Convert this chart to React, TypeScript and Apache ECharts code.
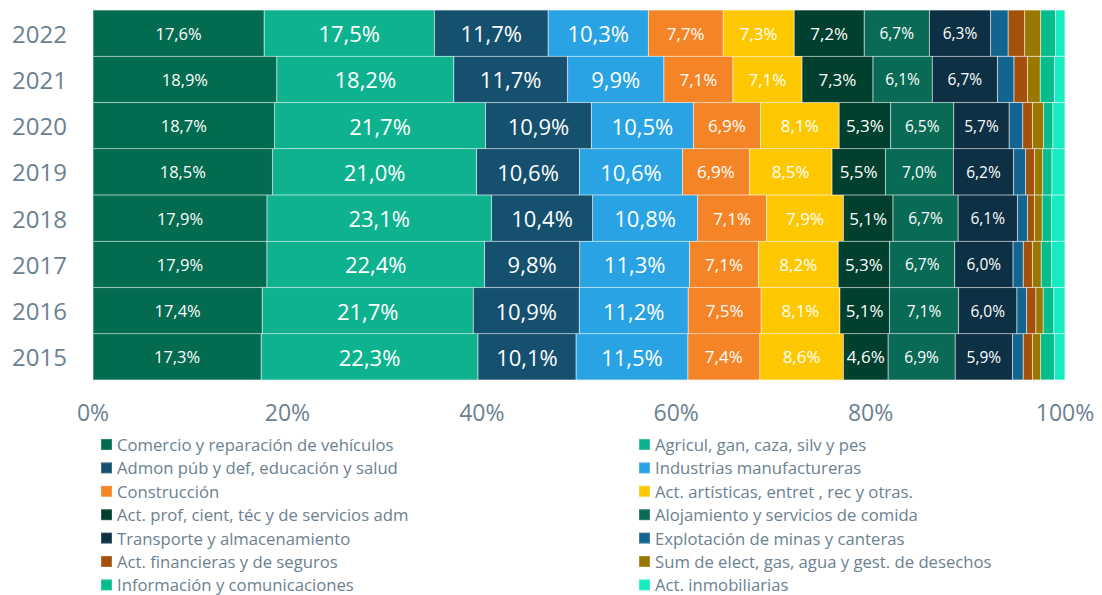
import React, { useEffect, useRef } from "react";
import * as echarts from "echarts";

const years = ["2015", "2016", "2017", "2018", "2019", "2020", "2021", "2022"];
const xTicks = ["0%", "20%", "40%", "60%", "80%", "100%"];

const seriesNames = [
  "Comercio y reparación de vehículos",
  "Agricul, gan, caza, silv y pes",
  "Admon púb y def, educación y salud",
  "Industrias manufactureras",
  "Construcción",
  "Act. artísticas, entret , rec y otras.",
  "Act. prof, cient, téc y de servicios adm",
  "Alojamiento y servicios de comida",
  "Transporte y almacenamiento",
  "Explotación de minas y canteras",
  "Act. financieras y de seguros",
  "Sum de elect, gas, agua y gest. de desechos",
  "Información y comunicaciones",
  "Act. inmobiliarias",
];

// values per year 2015..2022
const comercio = [17.3, 17.4, 17.9, 17.9, 18.5, 18.7, 18.9, 17.6];
const agricul = [22.3, 21.7, 22.4, 23.1, 21.0, 21.7, 18.2, 17.5];
const admon = [10.1, 10.9, 9.8, 10.4, 10.6, 10.9, 11.7, 11.7];
const industrias = [11.5, 11.2, 11.3, 10.8, 10.6, 10.5, 9.9, 10.3];
const construccion = [7.4, 7.5, 7.1, 7.1, 6.9, 6.9, 7.1, 7.7];
const artisticas = [8.6, 8.1, 8.2, 7.9, 8.5, 8.1, 7.1, 7.3];
const profesionales = [4.6, 5.1, 5.3, 5.1, 5.5, 5.3, 7.3, 7.2];
const alojamiento = [6.9, 7.1, 6.7, 6.7, 7.0, 6.5, 6.1, 6.7];
const transporte = [5.9, 6.0, 6.0, 6.1, 6.2, 5.7, 6.7, 6.3];
const minas = [1.1, 1.0, 1.05, 1.05, 1.25, 1.4, 1.7, 1.8];
const financieras = [0.95, 0.95, 0.95, 0.7, 0.9, 1.0, 1.4, 1.7];
const electricidad = [0.85, 0.75, 0.9, 0.8, 0.85, 1.15, 1.3, 1.65];
const informacion = [1.4, 1.1, 1.05, 0.95, 0.95, 0.95, 1.45, 1.5];
const inmobiliarias = [1.1, 1.15, 1.4, 1.4, 1.35, 1.25, 1.1, 1.0];

const seriesValues = [
  comercio, agricul, admon, industrias, construccion, artisticas, profesionales,
  alojamiento, transporte, minas, financieras, electricidad, informacion, inmobiliarias,
];

const colors = [
  "#036B4F", "#0FB28F", "#15506F", "#29A3E3", "#F58426", "#FEC800", "#013F2E",
  "#096A55", "#0D3044", "#126591", "#A2500A", "#9A7800", "#03BD8C", "#15EDC0",
];

const labelSizes = [16.5, 22, 22, 22, 17, 17, 17, 15.5, 15.5, 0, 0, 0, 0, 0];

const FONT = "'Open Sans', 'Noto Sans', sans-serif";
const GRAY = "#6B8191";

export default function App() {
  const ref = useRef<HTMLDivElement>(null);
  useEffect(() => {
    if (!ref.current) return;
    const chart = echarts.init(ref.current, null, { renderer: "svg" });
    const totals = years.map((_, j) =>
      seriesValues.reduce((s, arr) => s + arr[j], 0)
    );
    const series = seriesNames.map((name, i) => ({
      name,
      type: "bar",
      stack: "total",
      barCategoryGap: "0%",
      data: seriesValues[i].map((v, j) => (v / totals[j]) * 100),
      itemStyle: {
        color: colors[i],
        borderColor: "rgba(255,255,255,0.18)",
        borderWidth: 0.6,
      },
      label: {
        show: labelSizes[i] > 0,
        position: "inside",
        color: "#FFFFFF",
        fontFamily: FONT,
        fontSize: labelSizes[i],
        formatter: (p: any) =>
          seriesValues[i][p.dataIndex].toFixed(1).replace(".", ",") + "%",
      },
    }));
    const leftNames = seriesNames.filter((_, i) => i % 2 === 0);
    const rightNames = seriesNames.filter((_, i) => i % 2 === 1);
    const legendCommon = {
      orient: "vertical",
      top: 436,
      height: 400,
      itemWidth: 11,
      itemHeight: 11,
      itemGap: 6.4,
      icon: "rect",
      padding: 0,
      textStyle: {
        color: GRAY,
        fontFamily: FONT,
        fontSize: 16.7,
        lineHeight: 16,
      },
    };
    chart.setOption({
      animation: false,
      color: colors,
      textStyle: { fontFamily: FONT },
      grid: { left: 93, right: 37, top: 10, bottom: 215, containLabel: false },
      xAxis: {
        type: "value",
        min: 0,
        max: 100,
        interval: 20,
        splitLine: { show: false },
        axisLine: { show: false },
        axisTick: { show: false },
        axisLabel: {
          color: GRAY,
          fontSize: 23,
          fontFamily: FONT,
          margin: 20,
          formatter: (v: number) => xTicks[Math.round(v / 20)],
        },
      },
      yAxis: {
        type: "category",
        data: years,
        axisLine: { show: true, lineStyle: { color: "#C9D2D8", width: 1 } },
        axisTick: { show: false },
        axisLabel: {
          color: GRAY,
          fontSize: 24,
          fontFamily: FONT,
          margin: 26,
        },
      },
      legend: [
        { ...legendCommon, left: 100, data: leftNames },
        { ...legendCommon, left: 638, data: rightNames },
      ],
      series,
    });
    return () => chart.dispose();
  }, []);
  return (
    <div
      ref={ref}
      style={{ position: "absolute", left: 0, top: 0, width: 1102, height: 595 }}
    />
  );
}
